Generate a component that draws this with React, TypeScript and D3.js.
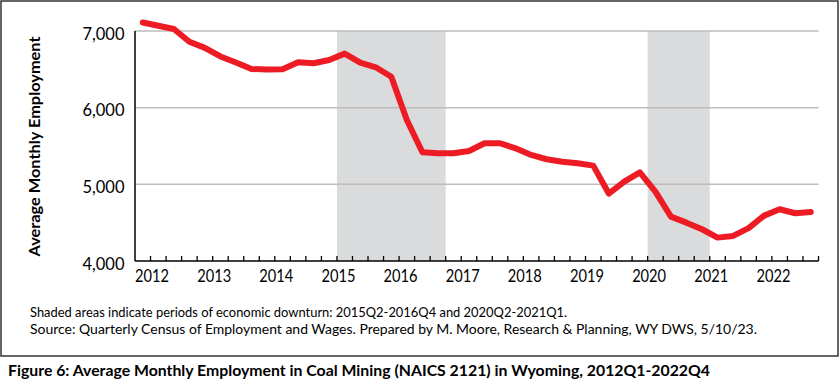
import * as d3 from "d3";
import React from "react";

// quarterly average monthly employment, coal mining (NAICS 2121), Wyoming
const years = [2012, 2013, 2014, 2015, 2016, 2017, 2018, 2019, 2020, 2021, 2022];
const quarterNames = ["Q1", "Q2", "Q3", "Q4"];
const employment = [
  7111, 7069, 7026, 6860, 6780, 6668, 6589, 6504, 6498, 6500,
  6592, 6579, 6622, 6705, 6587, 6527, 6404, 5840, 5418, 5405,
  5405, 5435, 5536, 5536, 5470, 5383, 5327, 5295, 5275, 5244,
  4880, 5035, 5155, 4905, 4579, 4500, 4414, 4305, 4327, 4428,
  4592, 4675, 4623, 4640,
];
const yTicks = [4000, 5000, 6000, 7000];
const downturns = [
  { start: "2015Q2", end: "2016Q4" },
  { start: "2020Q2", end: "2021Q1" },
];
const note1 = "Shaded areas indicate periods of economic downturn: 2015Q2-2016Q4 and 2020Q2-2021Q1.";
const note2 = "Source: Quarterly Census of Employment and Wages. Prepared by M. Moore, Research & Planning, WY DWS, 5/10/23.";
const caption = "Figure 6: Average Monthly Employment in Coal Mining (NAICS 2121) in Wyoming, 2012Q1-2022Q4";

const quarters = years.flatMap((y) => quarterNames.map((q) => `${y}${q}`));

const W = 840;
const H = 385;
const plot = { left: 135, right: 818.5, top: 31, bottom: 261 };
const FONT = "Lato, 'Open Sans', sans-serif";

export default function App() {
  const x = d3.scaleBand<string>().domain(quarters).range([plot.left, plot.right]).padding(0);
  const y = d3.scaleLinear().domain([4000, 7000]).range([plot.bottom, plot.top]);
  const bw = x.bandwidth();

  const line = d3
    .line<number>()
    .x((_, i) => (x(quarters[i]) as number) + bw / 2)
    .y((d) => y(d));

  const tickXs = quarters.map((q) => x(q) as number).concat([plot.right]);

  return (
    <svg
      width={W}
      height={H}
      style={{ position: "absolute", left: 0, top: 0, background: "#fff" }}
      fontFamily={FONT}
    >
      <rect x={1} y={1} width={837} height={355} fill="#fff" stroke="#333" strokeWidth={1.5} />

      {/* downturn shading */}
      {downturns.map((d) => (
        <rect
          key={d.start}
          x={x(d.start)}
          y={plot.top}
          width={(x(d.end) as number) + bw - (x(d.start) as number)}
          height={plot.bottom - plot.top}
          fill="#dadbdd"
        />
      ))}

      {/* gridlines */}
      {yTicks.filter((t) => t > 4000).map((t) => (
        <line key={t} x1={plot.left} x2={plot.right} y1={y(t)} y2={y(t)} stroke="#bdbdbd" strokeWidth={1.5} />
      ))}

      {/* axes */}
      <line x1={plot.left} x2={plot.left} y1={plot.top} y2={plot.bottom} stroke="#000" strokeWidth={1.5} />
      <line x1={plot.left} x2={plot.right} y1={plot.bottom} y2={plot.bottom} stroke="#000" strokeWidth={1.5} />
      {tickXs.slice(1).map((tx, i) => (
        <line key={i} x1={tx} x2={tx} y1={plot.bottom} y2={plot.bottom - 5} stroke="#000" strokeWidth={1.3} />
      ))}

      {/* y tick labels */}
      {yTicks.map((t) => (
        <text key={t} x={124.5} y={y(t) + 8.5} textAnchor="end" fontSize={17} fill="#000"
          textLength={42} lengthAdjust="spacingAndGlyphs">
          {d3.format(",")(t)}
        </text>
      ))}

      {/* x year labels */}
      {years.map((yr) => (
        <text key={yr} x={(x(`${yr}Q2`) as number) + 1.5} y={281.5} textAnchor="middle" fontSize={17} fill="#000"
          textLength={34} lengthAdjust="spacingAndGlyphs">
          {yr}
        </text>
      ))}

      {/* y axis title */}
      <text
        transform={`translate(40, ${(plot.top + plot.bottom) / 2 + 0.5}) rotate(-90)`}
        textAnchor="middle"
        fontSize={16}
        fontWeight="bold"
        fill="#000"
        textLength={220}
        lengthAdjust="spacingAndGlyphs"
      >
        Average Monthly Employment
      </text>

      {/* data line */}
      <path
        d={line(employment) ?? ""}
        fill="none"
        stroke="#ed1c24"
        strokeWidth={6}
        strokeLinejoin="round"
        strokeLinecap="round"
      />

      {/* notes */}
      <text x={30} y={317} fontSize={13.5} fill="#000" textLength={537} lengthAdjust="spacingAndGlyphs">
        {note1}
      </text>
      <text x={30} y={334} fontSize={13.5} fill="#000" textLength={727} lengthAdjust="spacingAndGlyphs">
        {note2}
      </text>

      <text x={8} y={376} fontSize={15.5} fontWeight="bold" fill="#000" textLength={702} lengthAdjust="spacingAndGlyphs">
        {caption}
      </text>
    </svg>
  );
}
